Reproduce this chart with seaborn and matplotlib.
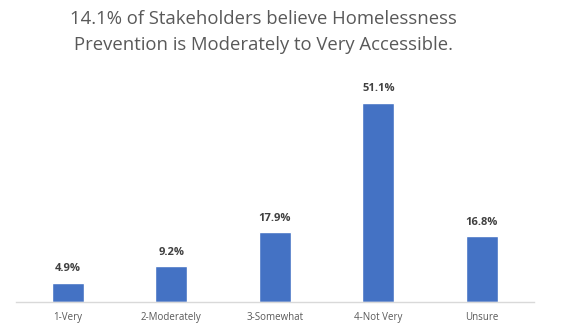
import matplotlib

matplotlib.use("Agg")
import matplotlib.pyplot as plt
import pandas as pd
import seaborn as sns

CATEGORIES = ["1-Very", "2-Moderately", "3-Somewhat", "4-Not Very", "Unsure"]
VALUES = [4.9, 9.2, 17.9, 51.1, 16.8]
TITLE = "14.1% of Stakeholders believe Homelessness\nPrevention is Moderately to Very Accessible."

BAR = "#4472C4"
TEXT = "#595959"

sns.set_theme(style="white")
plt.rcParams["font.family"] = ["Open Sans", "DejaVu Sans"]

df = pd.DataFrame({"cat": CATEGORIES, "pct": VALUES})

fig = plt.figure(figsize=(5.66, 3.24), dpi=100)
ax = fig.add_axes([0.028, 0.068, 0.915, 0.716])
sns.barplot(data=df, x="cat", y="pct", color=BAR, width=0.31, saturation=1, ax=ax)

for i, v in enumerate(VALUES):
    ax.text(i, v + 2.2, f"{v:.1f}%", ha="center", va="bottom", fontsize=8,
            fontweight="bold", color="#404040")

ax.set_ylim(0, 59.5)
ax.set_xlim(-0.5, 4.5)
ax.set_xlabel("")
ax.set_ylabel("")
ax.set_yticks([])
ax.tick_params(axis="x", length=0, labelsize=7, colors=TEXT, pad=7)
for s in ("top", "right", "left"):
    ax.spines[s].set_visible(False)
ax.spines["bottom"].set_color("#D9D9D9")
ax.spines["bottom"].set_linewidth(1)

fig.text(0.465, 0.97, TITLE, ha="center", va="top", fontsize=13.3, color=TEXT,
         linespacing=1.6)

fig.savefig("out.png", dpi=100)
